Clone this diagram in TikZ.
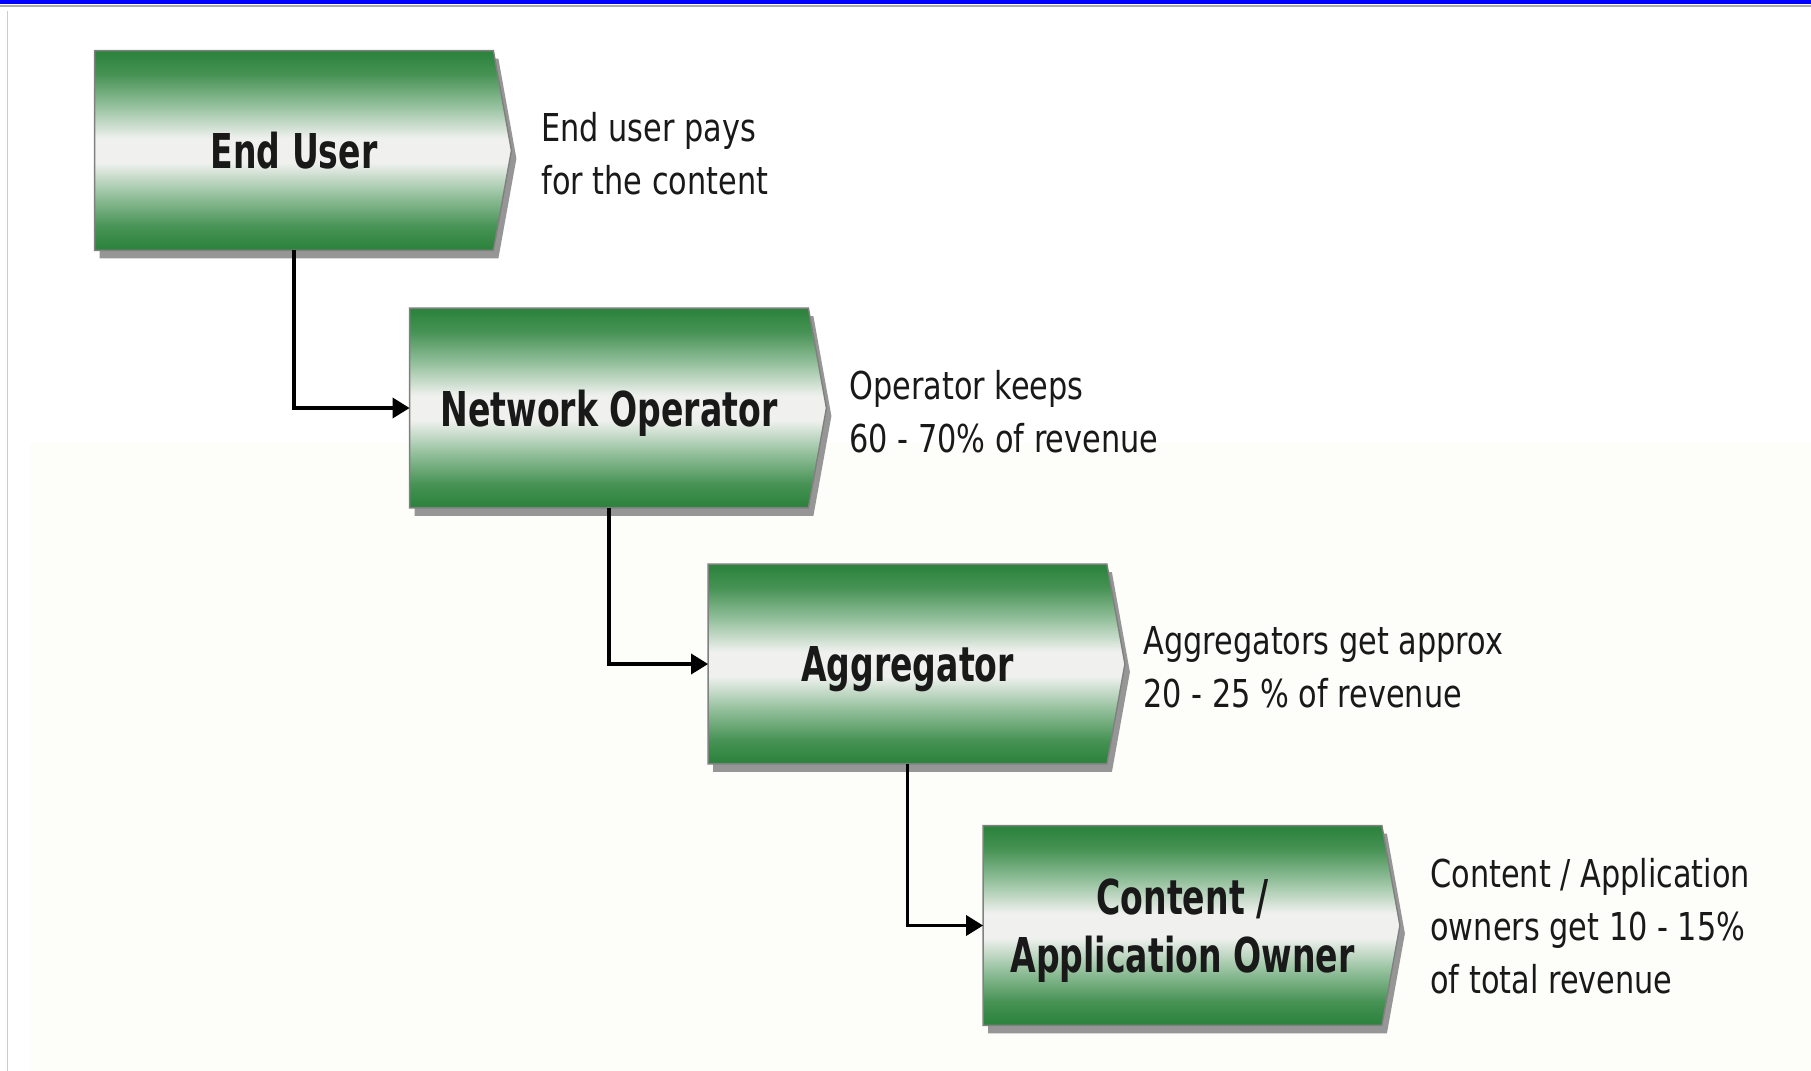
\documentclass[tikz,border=0pt]{standalone}
\usepackage{fontspec}
\setmainfont{DejaVu Sans}[FakeStretch=0.79]
\newfontfamily\stagefont{DejaVu Sans}[FakeStretch=0.69]
\usepackage{tikz}
\usetikzlibrary{arrows.meta}
\usetikzlibrary{positioning}

\definecolor{stagegreen}{RGB}{46,132,62}
\definecolor{stagemid}{RGB}{240,241,239}
\definecolor{pagecream}{RGB}{253,253,249}
\definecolor{shadowgray}{RGB}{150,150,150}
\definecolor{inkblack}{RGB}{25,25,25}

\pgfdeclarelayer{bg}
\pgfsetlayers{bg,main}

% green - white - green body of a stage
\pgfdeclareverticalshading{stageshade}{100bp}{color(0bp)=(stagegreen); color(26bp)=(stagegreen);
  color(31bp)=(stagegreen!88!white); color(39bp)=(stagegreen!50!white); color(47bp)=(stagemid);
  color(53bp)=(stagemid); color(61bp)=(stagegreen!50!white); color(69bp)=(stagegreen!88!white);
  color(74bp)=(stagegreen); color(100bp)=(stagegreen)}

% outline of a stage with its point
\newcommand{\stagepath}[1]{(#1.north west) -- (#1.north east) -- ([xshift=9pt]#1.east)
  -- (#1.south east) -- (#1.south west) -- cycle}

\tikzset{
  stage/.style={rectangle, inner sep=0pt, minimum width=199pt, minimum height=99.5pt,
    text depth=0pt, align=center, text=inkblack,
    font=\stagefont\bfseries\fontsize{24pt}{29pt}\selectfont},
  note/.style={anchor=west, inner sep=0pt, align=left, text=inkblack,
    font=\fontsize{19.2pt}{26.5pt}\selectfont},
  flow/.style={line width=1.8pt, -{Triangle[length=8.5pt,width=10pt]}},
}

\begin{document}
\begin{tikzpicture}[x=0.5pt,y=-0.5pt]
\useasboundingbox (0,0) rectangle (1811,1071);

% the four stages
\node[stage] (user) at (294,150.5) {End User};
\node[stage] (oper) at (609,408) {Network Operator};
\node[stage] (aggr) at (907.5,664) {Aggregator};
\node[stage] (owner) at (1182.5,925.5) {Content /\\Application Owner};

% revenue notes
\node[note] (usernote) at (541,154) {End user pays\\for the content};
\node[note] (opernote) at (849,412) {Operator keeps\\60 - 70\% of revenue};
\node[note] (aggrnote) at (1143,667) {Aggregators get approx\\20 - 25 \% of revenue};
\node[note] (ownernote) at (1430,926) {Content / Application\\owners get 10 - 15\%\\of total revenue};

% money flow
\draw[flow] (user.south) |- (oper.west);
\draw[flow] (oper.south) |- (aggr.west);
\draw[flow] (aggr.south) |- (owner.west);

\begin{pgfonlayer}{bg}
  % page
  \fill[white] (0,0) rectangle (1811,1071);
  \fill[pagecream] (30,443) rectangle (1811,1071);
  \fill[blue] (0,0) rectangle (1811,3.5);
  \fill[gray!65] (0,4.5) rectangle (1811,6.8);
  \draw[gray!40, line width=0.8pt] (7.5,11) -- (7.5,1071);
  % bodies and shadows
  \foreach \stg in {user,oper,aggr,owner} {
    \fill[shadowgray, transform canvas={xshift=2.5pt, yshift=-4pt}] \stagepath{\stg};
    \shade[shading=stageshade, draw=gray, line width=0.7pt] \stagepath{\stg};
  }
\end{pgfonlayer}
\end{tikzpicture}
\end{document}
